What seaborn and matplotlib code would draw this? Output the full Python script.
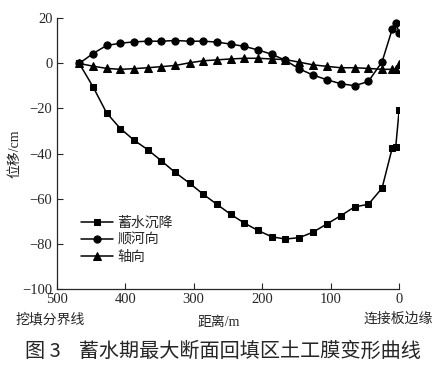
import numpy as np
import pandas as pd
import matplotlib
matplotlib.use("Agg")
import matplotlib.pyplot as plt
import seaborn as sns

# distance from connecting-plate edge (m)
distance = [467, 447, 427, 407, 387, 367, 347, 327, 306, 286, 266, 246, 226,
            206, 186, 166, 146, 126, 105, 85, 65, 45, 25, 10, 5, 0]
settlement = [0, -10.3, -22.0, -28.9, -34.1, -38.3, -43.3, -48.4, -53.2, -58.1,
              -62.6, -67.0, -70.9, -74.2, -77.0, -78.0, -77.4, -75.0, -71.2,
              -67.6, -63.7, -62.6, -55.4, -37.4, -37.0, -20.6]
downstream = [0, 4.4, 8.0, 9.0, 9.6, 9.9, 9.9, 10.2, 9.9, 9.9, 9.5, 8.6, 7.6,
              6.0, 4.1, 1.4, -2.4, -5.1, -7.3, -9.0, -9.9, -8.0, 0.7, 15.4,
              18.0, 13.7]
axial = [0, -1.2, -2.2, -2.6, -2.3, -1.9, -1.4, -0.9, 0.3, 1.2, 1.6, 2.0, 2.3,
         2.3, 2.0, 1.7, 0.6, -0.6, -1.3, -1.9, -1.9, -2.2, -2.6, -2.6, -2.6, -0.3]
series_names = ["蓄水沉降", "顺河向", "轴向"]
x_ticks = [500, 400, 300, 200, 100, 0]
y_ticks = [-100, -80, -60, -40, -20, 0, 20]

sns.set_style("ticks")
plt.rcParams['font.family'] = ['Liberation Serif', 'Noto Sans CJK SC']
plt.rcParams['axes.unicode_minus'] = True

fig = plt.figure(figsize=(4.46, 3.69), dpi=100)
ax = fig.add_axes([0.127, 0.218, 0.768, 0.732])

markers = ['s', 'o', '^']
sizes = [4.4, 5.2, 5.4]
for name, vals, m, ms in zip(series_names, [settlement, downstream, axial], markers, sizes):
    df = pd.DataFrame({"x": distance, "y": vals})
    sns.lineplot(data=df, x="x", y="y", ax=ax, sort=False, color="black",
                 linewidth=1.1, marker=m, markersize=ms, markeredgecolor="black",
                 markerfacecolor="black", label=name)

ax.set_xlim(500, 0)
ax.set_ylim(-100, 20)
ax.set_xticks(x_ticks)
ax.set_yticks(y_ticks)
ax.set_xlabel("")
ax.set_ylabel("位移/cm", fontsize=10, labelpad=1)
ax.tick_params(direction='in', length=4, width=0.8, labelsize=10.5, pad=3)
for s in ['top', 'right']:
    ax.spines[s].set_visible(False)
for s in ['left', 'bottom']:
    ax.spines[s].set_linewidth(0.9)

leg = ax.legend(loc='lower left', bbox_to_anchor=(0.055, 0.07), frameon=False,
                fontsize=10, handlelength=2.3, handletextpad=0.3,
                labelspacing=0.3, borderaxespad=0)

fig.text(0.112, 0.135, "挖填分界线", ha='center', va='center', fontsize=10)
fig.text(0.49, 0.127, "距离/m", ha='center', va='center', fontsize=10)
fig.text(0.893, 0.135, "连接板边缘", ha='center', va='center', fontsize=10)
fig.text(0.5, 0.047, "图 3    蓄水期最大断面回填区土工膜变形曲线", ha='center',
         va='center', fontsize=14.5, family=['Noto Sans CJK SC'])

fig.savefig("out.png", dpi=100)
